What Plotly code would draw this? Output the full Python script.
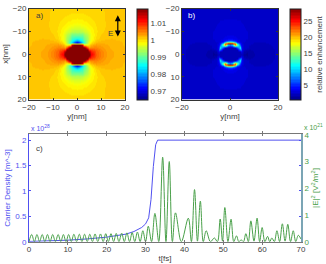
import numpy as np
import plotly.graph_objects as go

W, H = 326, 264
# ---- data ----
grid_a = [0, 1, 2, 3, 4, 5, 6, 7, 8, 10, 12, 14, 17, 20]
field_a = [
 [1.02,1.02,1.02,1.02,1.02,1.02,1.012,1.0095,1.0066,1.0048,1.0033,1.0025,1.0019,1.0016],
 [1.02,1.02,1.02,1.02,1.02,1.016,1.0105,1.0084,1.0064,1.0047,1.0032,1.0025,1.0019,1.0016],
 [1.02,1.02,1.02,1.02,1.02,1.009,1.0078,1.0067,1.0058,1.0042,1.003,1.0024,1.0018,1.0016],
 [1.02,1.02,1.02,1.02,1.009,1.0034,1.0046,1.0047,1.0045,1.0036,1.0027,1.0022,1.0017,1.0015],
 [1.02,1.02,1.014,0.998,0.9975,0.9996,1.0017,1.0028,1.0032,1.0029,1.0024,1.002,1.0016,1.0014],
 [0.97,0.9735,0.9815,0.9878,0.9934,0.9971,0.9993,1.001,1.0018,1.0022,1.002,1.0018,1.0016,1.0014],
 [0.98,0.9817,0.9861,0.9893,0.993,0.9959,0.998,0.9998,1.0008,1.0016,1.0017,1.0016,1.0015,1.0014],
 [0.986,0.9865,0.9881,0.9907,0.9934,0.9959,0.9976,0.9992,1.0002,1.0011,1.0014,1.0015,1.0014,1.0014],
 [0.99,0.9898,0.9901,0.9923,0.9941,0.9959,0.9976,0.9989,0.9998,1.0008,1.0012,1.0013,1.0014,1.0013],
 [0.9942,0.9942,0.9944,0.9953,0.9963,0.9973,0.9982,0.999,0.9996,1.0004,1.0009,1.0011,1.0012,1.0012],
 [0.9966,0.9968,0.9971,0.9975,0.998,0.9984,0.9989,0.9994,0.9998,1.0003,1.0007,1.0009,1.0011,1.0012],
 [0.9981,0.9984,0.9985,0.9987,0.9989,0.9992,0.9995,0.9997,1.0,1.0004,1.0007,1.0009,1.001,1.0011],
 [0.9996,0.9996,0.9996,0.9997,0.9998,0.9999,1.0,1.0002,1.0003,1.0005,1.0007,1.0008,1.001,1.001],
 [1.0002,1.0002,1.0002,1.0002,1.0003,1.0003,1.0004,1.0004,1.0005,1.0006,1.0007,1.0008,1.0009,1.001],
]
grid_b = [0, 1, 2, 3, 4, 4.5, 5, 5.5, 6, 7, 8, 10, 12, 15, 20]
field_b = [
 [2.1,2.1,2.1,2.1,2.1,2.1,2.1,1.6,1.3,1.3,1.5,1.8,2.0,2.2,2.3],
 [2.1,2.1,2.1,2.1,2.1,3.5,3.0,2.3,1.7,1.4,1.6,1.85,2.0,2.2,2.3],
 [2.1,2.1,2.1,2.1,7,7,3.5,2.8,2.4,2.0,1.8,1.9,2.05,2.2,2.3],
 [2.1,2.1,2.1,6,11,6,3.6,3.0,2.7,2.4,2.2,2.1,2.1,2.2,2.32],
 [8,10,22,15,6,4,3.2,2.8,2.6,2.5,2.3,2.15,2.15,2.22,2.35],
 [28.2,28,22.8,11,5,3.6,3,2.8,2.6,2.5,2.4,2.2,2.18,2.24,2.38],
 [21,20,14,7,3.8,3.2,2.9,2.7,2.6,2.5,2.4,2.25,2.25,2.27,2.4],
 [12,11,7,4.2,3.3,3,2.8,2.75,2.72,2.6,2.45,2.3,2.3,2.3,2.4],
 [6,5.7,4.6,3.8,3.1,2.9,2.8,2.75,2.75,2.65,2.5,2.35,2.35,2.35,2.4],
 [3.7,3.6,3.4,3.2,2.95,2.85,2.8,2.75,2.75,2.72,2.6,2.45,2.4,2.4,2.4],
 [3.2,3.2,3.1,3,2.9,2.85,2.8,2.78,2.75,2.73,2.65,2.5,2.45,2.4,2.4],
 [2.95,2.95,2.9,2.88,2.85,2.83,2.8,2.78,2.76,2.72,2.65,2.55,2.5,2.42,2.4],
 [2.85,2.85,2.83,2.8,2.8,2.78,2.77,2.75,2.72,2.65,2.6,2.5,2.45,2.4,2.4],
 [2.72,2.72,2.72,2.71,2.7,2.68,2.66,2.64,2.6,2.55,2.5,2.45,2.42,2.4,2.4],
 [2.55,2.55,2.55,2.52,2.5,2.5,2.48,2.46,2.45,2.43,2.42,2.4,2.4,2.4,2.4],
]
t_density = [0,5,10,15,20,25,27,29,30,30.8,31.4,32,32.6,33.1,34,70]
density = [0.005,0.012,0.03,0.055,0.09,0.15,0.2,0.28,0.35,0.47,0.83,1.48,1.91,2.0,2.0,2.0]
t_field = [0,0.7,1.38,2.05,2.72,3.4,4.08,4.75,5.42,6.1,6.8,7.5,8.18,8.85,9.52,10.2,10.88,11.55,12.25,12.95,13.62,14.3,14.98,15.65,16.32,17.0,17.7,18.4,19.08,19.75,20.42,21.1,21.78,22.45,23.15,23.85,24.52,25.2,25.88,26.55,27.22,27.9,28.6,29.3,30.0,30.7,31.55,32.4,33.4,34.4,35.25,36.1,36.9,37.7,39.2,41.0,41.8,42.6,43.35,44.1,44.85,45.6,46.7,47.7,48.5,49.2,49.8,50.4,51.2,52.0,52.7,53.4,54.0,54.6,55.2,55.8,56.45,57.1,57.9,58.7,59.35,60.0,60.7,61.4,61.95,62.5,63.15,63.8,64.5,65.2,65.9,66.6,67.3,68.0,68.65,69.3,70.0]
e_field = [0,0.27,0,0.27,0,0.27,0,0.27,0,0.27,0,0.27,0,0.27,0,0.27,0,0.28,0,0.28,0,0.28,0,0.28,0,0.29,0,0.29,0,0.3,0,0.3,0,0.31,0,0.32,0,0.33,0,0.34,0,0.36,0,0.41,0,0.58,0,1.06,0,3.16,0,3.0,0,1.08,0,0.88,0,1.95,0.02,1.52,0,0.41,0,0.14,0,0.85,0.02,1.28,0,0.84,0,0.22,0,0.07,0,0.3,0,0.78,0.02,0.88,0,0.53,0,0.2,0,0.14,0,0.41,0,0.67,0.02,0.65,0,0.41,0,0.24,0.1]
ticks_c_left = [0,0.5,1,1.5,2]
ticks_c_left_text = ["0","0.5","1","1.5","2"]
ticks_c_right = [0,1,2,3,4]
ticks_cb_a = [0.97,0.98,0.99,1,1.01]
ticks_cb_a_text = ["0.97","0.98","0.99","1","1.01"]
ticks_cb_b = [5,10,15,20,25]

# ---- helpers ----
def mirror_quadrant(grid, table):
    g = np.array(grid, float)
    q = np.array(table, float)
    full_axis = np.r_[-g[:0:-1], g]
    right = np.c_[q[:, :0:-1], q]
    full = np.r_[right[:0:-1], right]
    return full_axis, full

def jet64():
    def ch(f, shift):
        return float(np.clip(1.5 - abs(4 * f - shift), 0, 1))
    out = []
    for i in range(64):
        f = (i + 0.5) / 64
        c = "rgb(%d,%d,%d)" % (255*ch(f,3), 255*ch(f,2), 255*ch(f,1))
        out.append([i/64, c]); out.append([(i+1)/64, c])
    return out

INK = "#404040"; BLUE = "#5050f0"; GREEN = "#4aa04a"
FONT = dict(family="Liberation Sans, Arial, sans-serif", size=8, color=INK)
JET = jet64()

def px(a, b, total):
    return [a/total, b/total]

fig = go.Figure()
ax_a, za = mirror_quadrant(grid_a, field_a)
ax_b, zb = mirror_quadrant(grid_b, field_b)

fig.add_trace(go.Heatmap(x=ax_a, y=ax_a, z=za, zmin=0.9647, zmax=1.0182, zsmooth="best",
    colorscale=JET, xaxis="x", yaxis="y",
    colorbar=dict(x=137/W, xanchor="left", y=1-54.5/H, yanchor="middle", len=91, lenmode="pixels",
        thickness=11, thicknessmode="pixels", xpad=0, ypad=0, outlinewidth=1, outlinecolor="#222",
        tickvals=ticks_cb_a, ticktext=ticks_cb_a_text, ticks="", tickfont=FONT)))
fig.add_trace(go.Heatmap(x=ax_b, y=ax_b, z=zb, zmin=0.5, zmax=28.8, zsmooth="best",
    colorscale=JET, xaxis="x2", yaxis="y2",
    colorbar=dict(x=290/W, xanchor="left", y=1-54.5/H, yanchor="middle", len=91, lenmode="pixels",
        thickness=11, thicknessmode="pixels", xpad=0, ypad=0, outlinewidth=1, outlinecolor="#222",
        tickvals=ticks_cb_b, ticks="", tickfont=FONT,
        title=dict(text="relative enhancement", side="right", font=FONT))))
fig.add_trace(go.Scatter(x=t_field, y=e_field, mode="lines", xaxis="x3", yaxis="y4",
    line=dict(color=GREEN, width=1, shape="spline", smoothing=1), showlegend=False))
fig.add_trace(go.Scatter(x=t_density, y=density, mode="lines", xaxis="x3", yaxis="y3",
    line=dict(color=BLUE, width=1), showlegend=False))

frame = dict(showline=True, linecolor="#333", linewidth=1, mirror="allticks", ticks="inside", automargin=False,
             ticklen=2, tickwidth=1, tickcolor="#333", showgrid=False, zeroline=False, tickfont=FONT)
t20 = [-20,-10,0,10,20]
fig.update_layout(
    width=W, height=H, margin=dict(l=0,r=0,t=0,b=0,autoexpand=False), paper_bgcolor="white", plot_bgcolor="white",
    showlegend=False, font=FONT,
    xaxis=dict(frame, domain=px(29,125,W), range=[-20,20], tickvals=t20, anchor="y",
               title=dict(text="y[nm]", font=FONT, standoff=1)),
    yaxis=dict(frame, domain=px(H-99.5,H-8.5,H), range=[20,-20], tickvals=t20, anchor="x",
               title=dict(text="x[nm]", font=FONT, standoff=3)),
    xaxis2=dict(frame, domain=px(182,278,W), range=[-20,20], tickvals=[-20,0,20], anchor="y2",
               title=dict(text="y[nm]", font=FONT, standoff=1)),
    yaxis2=dict(frame, domain=px(H-99.5,H-8.5,H), range=[20,-20], tickvals=t20, anchor="x2"),
    xaxis3=dict(frame, domain=px(29,301,W), range=[0,70], dtick=10, anchor="y3", linecolor="#777", tickcolor="#777",
               title=dict(text="t[fs]", font=FONT, standoff=2)),
    yaxis3=dict(frame, domain=px(H-241.7,H-134.3,H), range=[0,2.115], tickvals=ticks_c_left, ticktext=ticks_c_left_text,
                anchor="x3", linecolor=BLUE, tickcolor=BLUE, tickfont=dict(FONT, color=BLUE),
                title=dict(text="Carrier Density [m^-3]", font=dict(FONT, color=BLUE), standoff=3)),
    yaxis4=dict(domain=px(H-241.7,H-134.3,H), range=[0,4.02], tickvals=ticks_c_right, anchor="x3", overlaying="y3", side="right",
                showline=True, linecolor="#7ba5b5", linewidth=2, ticks="", showgrid=False, zeroline=False, automargin=False,
                tickfont=dict(FONT, color=GREEN),
                title=dict(text="|E|<sup>2</sup> [V<sup>2</sup>/m<sup>2</sup>]", font=dict(FONT, color=GREEN), standoff=3)),
    annotations=[
        dict(text="a)", xref="paper", yref="paper", x=34/W, y=1-16/H, showarrow=False, xanchor="left", yanchor="middle", font=FONT),
        dict(text="b)", xref="paper", yref="paper", x=186/W, y=1-16/H, showarrow=False, xanchor="left", yanchor="middle", font=dict(FONT, color="white")),
        dict(text="c)", xref="paper", yref="paper", x=34/W, y=1-148/H, showarrow=False, xanchor="left", yanchor="middle", font=FONT),
        dict(text="E", xref="paper", yref="paper", x=110/W, y=1-27/H, showarrow=False, font=FONT),
        dict(x=17, y=-17, ax=17, ay=-7, xref="x", yref="y", axref="x", ayref="y", text="", showarrow=True,
             arrowhead=2, arrowside="end+start", arrowwidth=1.2, arrowsize=1, arrowcolor="#000"),
        dict(text="x 10<sup>28</sup>", xref="paper", yref="paper", x=29/W, y=1-128/H, showarrow=False, xanchor="left", yanchor="middle", font=dict(FONT, color=BLUE, size=7)),
        dict(text="x 10<sup>21</sup>", xref="paper", yref="paper", x=302/W, y=1-127/H, showarrow=False, xanchor="left", yanchor="middle", font=dict(FONT, color=GREEN, size=7)),
    ],
)
fig.write_html("out.html", post_script="document.body.style.margin='0';document.body.style.overflow='hidden';",
               config=dict(displayModeBar=False))
